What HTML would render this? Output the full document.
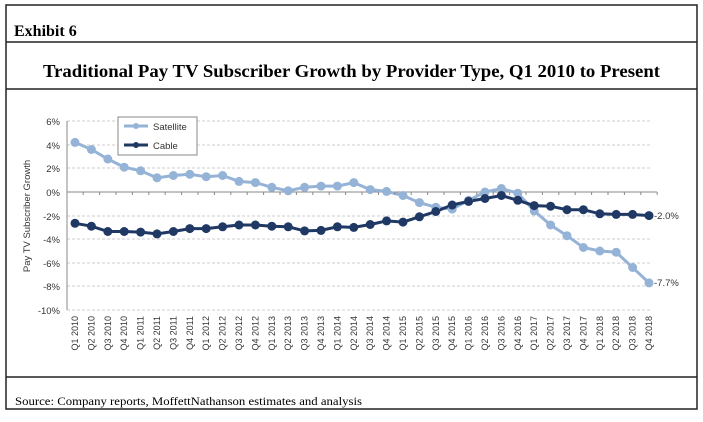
<!DOCTYPE html><html><head><style>body{margin:0;background:#fff;width:703px;height:417px;overflow:hidden}</style></head><body>
<svg width="703" height="417" xmlns="http://www.w3.org/2000/svg" font-family="Liberation Sans, sans-serif">
<rect x="6" y="5" width="691" height="404" fill="none" stroke="#222" stroke-width="1.5"/>
<line x1="6" y1="42" x2="697" y2="42" stroke="#222" stroke-width="1.5"/>
<line x1="6" y1="89" x2="697" y2="89" stroke="#222" stroke-width="1.5"/>
<line x1="6" y1="377" x2="697" y2="377" stroke="#222" stroke-width="1.5"/>
<text x="14" y="36" font-family="Liberation Serif, serif" font-weight="bold" font-size="16">Exhibit 6</text>
<text x="43" y="77" textLength="617" lengthAdjust="spacingAndGlyphs" font-family="Liberation Serif, serif" font-weight="bold" font-size="18">Traditional Pay TV Subscriber Growth by Provider Type, Q1 2010 to Present</text>
<text x="15" y="405" textLength="347" lengthAdjust="spacingAndGlyphs" font-family="Liberation Serif, serif" font-size="11.5">Source: Company reports, MoffettNathanson estimates and analysis</text>
<g stroke="#ccc" stroke-dasharray="3,2" stroke-width="1">
<line x1="67" y1="121" x2="650" y2="121"/><line x1="67" y1="145" x2="650" y2="145"/><line x1="67" y1="168" x2="650" y2="168"/><line x1="67" y1="216" x2="650" y2="216"/><line x1="67" y1="239" x2="650" y2="239"/><line x1="67" y1="263" x2="650" y2="263"/><line x1="67" y1="286" x2="650" y2="286"/><line x1="67" y1="310" x2="650" y2="310"/>
</g>
<line x1="67" y1="121" x2="67" y2="310" stroke="#888"/>
<line x1="67" y1="192" x2="657" y2="192" stroke="#888"/>
<g font-size="9.5" fill="#333" text-anchor="end">
<text x="60" y="125">6%</text><text x="60" y="149">4%</text><text x="60" y="172">2%</text><text x="60" y="196">0%</text><text x="60" y="220">-2%</text><text x="60" y="243">-4%</text><text x="60" y="267">-6%</text><text x="60" y="290">-8%</text><text x="60" y="314">-10%</text>
</g>
<text transform="translate(30,216) rotate(-90)" text-anchor="middle" font-size="9.5" fill="#333">Pay TV Subscriber Growth</text>
<g font-size="9" fill="#333" text-anchor="end" id="xl"></g>
<polyline fill="none" stroke="#95b3d7" stroke-width="3" points="75,142.4 91.4,149.5 107.8,159 124.2,167.2 140.6,170.8 157,177.8 173.4,175.5 189.8,174.3 206.2,176.7 222.6,175.5 239,181.4 255.4,182.6 271.8,187.3 288.2,190.8 304.6,187.3 321,186.1 337.4,186.1 353.8,182.6 370.2,189.6 386.6,191.4 403,195.5 419.4,202.6 435.8,207.3 452.2,209.1 468.6,200.3 485,192 501.4,188.5 517.8,193.2 534.2,210.9 550.6,225 567,235.7 583.4,247.5 599.8,251 616.2,252.2 632.6,267.5 649,282.9"/>
<polyline fill="none" stroke="#1f3864" stroke-width="3" points="75,223.3 91.4,226.2 107.8,231.5 124.2,231.5 140.6,232.1 157,233.9 173.4,231.5 189.8,228.6 206.2,228.6 222.6,226.8 239,225 255.4,225 271.8,226.2 288.2,226.8 304.6,230.9 321,230.4 337.4,226.8 353.8,227.4 370.2,224.5 386.6,220.9 403,222.1 419.4,216.8 435.8,211.5 452.2,205 468.6,201.4 485,198.5 501.4,195.5 517.8,200.3 534.2,205.6 550.6,206.2 567,209.7 583.4,209.7 599.8,213.8 616.2,214.4 632.6,214.4 649,215.6"/>
<g id="m"></g>
<text x="654" y="219" font-size="9.5" fill="#333">-2.0%</text>
<text x="654" y="286" font-size="9.5" fill="#333">-7.7%</text>
<rect x="118" y="117" width="79" height="38" fill="#fff" stroke="#888"/>
<line x1="124" y1="126" x2="148" y2="126" stroke="#95b3d7" stroke-width="3"/><circle cx="136" cy="126" r="3" fill="#95b3d7"/>
<text x="153" y="130" font-size="9.5" fill="#333">Satellite</text>
<line x1="124" y1="145" x2="148" y2="145" stroke="#1f3864" stroke-width="3"/><circle cx="136" cy="145" r="3" fill="#1f3864"/>
<text x="153" y="149" font-size="9.5" fill="#333">Cable</text>
</svg>
<script>
var s="http://www.w3.org/2000/svg",svg=document.querySelector('svg');
var sat=[142.4,149.5,159,167.2,170.8,177.8,175.5,174.3,176.7,175.5,181.4,182.6,187.3,190.8,187.3,186.1,186.1,182.6,189.6,191.4,195.5,202.6,207.3,209.1,200.3,192,188.5,193.2,210.9,225,235.7,247.5,251,252.2,267.5,282.9];
var cab=[223.3,226.2,231.5,231.5,232.1,233.9,231.5,228.6,228.6,226.8,225,225,226.2,226.8,230.9,230.4,226.8,227.4,224.5,220.9,222.1,216.8,211.5,205,201.4,198.5,195.5,200.3,205.6,206.2,209.7,209.7,213.8,214.4,214.4,215.6];
var m=document.getElementById('m'),xl=document.getElementById('xl');
for(var i=0;i<36;i++){var x=75+16.4*i;
[[sat,'#95b3d7'],[cab,'#1f3864']].forEach(function(a){var c=document.createElementNS(s,'circle');c.setAttribute('cx',x);c.setAttribute('cy',a[0][i]);c.setAttribute('r',4.5);c.setAttribute('fill',a[1]);m.appendChild(c);});
var t=document.createElementNS(s,'text');t.setAttribute('transform','translate('+(x+3)+',316) rotate(-90)');t.textContent='Q'+(i%4+1)+' '+(2010+Math.floor(i/4));xl.appendChild(t);
var tk=document.createElementNS(s,'line');tk.setAttribute('x1',x+8.2);tk.setAttribute('x2',x+8.2);tk.setAttribute('y1',192);tk.setAttribute('y2',195);tk.setAttribute('stroke','#888');svg.insertBefore(tk,m);}
</script>
</body></html>
